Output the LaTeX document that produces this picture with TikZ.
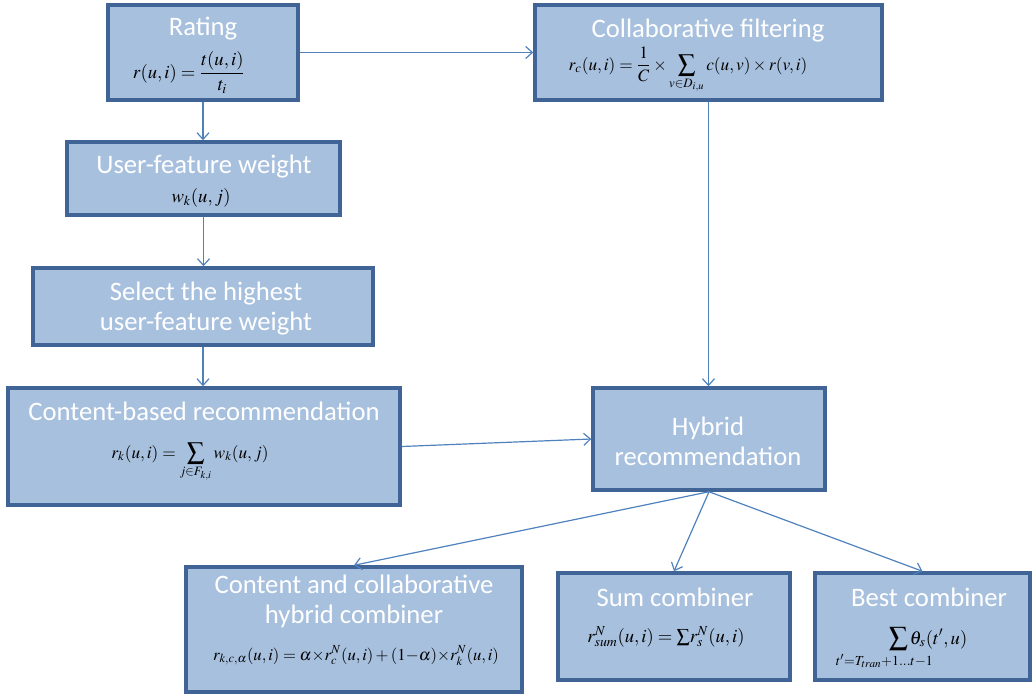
\documentclass[tikz,border=0pt]{standalone}
\usepackage{amsmath}
\usepackage{mathtools}
\usepackage{mathptmx}
\usepackage[no-math]{fontspec}
\setmainfont{Carlito}
\usepackage{xcolor}
\usetikzlibrary{fit,arrows.meta}

\definecolor{boxfill}{RGB}{167,192,222}
\definecolor{boxline}{RGB}{64,100,150}
\definecolor{linkblue}{RGB}{79,129,189}

\begin{document}
\begin{tikzpicture}[x=0.75pt,y=0.75pt,yscale=-1,xscale=1,
	box/.style={draw=boxline,fill=boxfill,line width=2.6pt,inner sep=0pt},
	title/.style={text=white,font=\fontsize{20}{22.5}\selectfont,align=center,inner sep=0pt},
	formula/.style={font=\fontsize{14}{16}\selectfont,inner sep=0pt},
	link/.style={draw=linkblue,line width=0.9pt,-{Straight Barb[length=5pt,width=9pt]}}]
				\useasboundingbox (0,0) rectangle (1034,696);
				
				% Boxes
				\node [box,fit={(108,5) (298,100)}] (rating) {};
				\node [box,fit={(535,5) (882,100)}] (collab) {};
				\node [box,fit={(67,142) (340,215)}] (weight) {};
				\node [box,fit={(33,268) (373,345)}] (select) {};
				\node [box,fit={(8,388) (400,505)}] (content) {};
				\node [box,fit={(593,388) (825,490)}] (hybrid) {};
				\node [box,fit={(186,567) (522,692)}] (cchybrid) {};
				\node [box,fit={(558,573) (790,680)}] (sumcomb) {};
				\node [box,fit={(815,573) (1030,680)}] (bestcomb) {};
				
				% Text Node
				\node [title,anchor=base] (ratingT) at (203,36) {Rating};
				% Text Node
				\node [formula,anchor=base] (ratingF) at (189,78) {$r(u,i)=\dfrac{t(u,i)}{t_i}$};
				% Text Node
				\node [title,anchor=base] (collabT) at (708,37) {Collaborative filtering};
				% Text Node
				\node [formula,anchor=base,font=\fontsize{13}{15}\selectfont] (collabF) at (688,70) {$\displaystyle r_c(u,i)=\frac{1}{C}\times\sum_{v\in D_{i,u}}c(u,v)\times r(v,i)$};
				% Text Node
				\node [title,anchor=base] (weightT) at (204,173) {User-feature weight};
				% Text Node
				\node [formula,anchor=base] (weightF) at (201,202) {$w_k(u,j)$};
				% Text Node
				\node [title] (selectT) at (206,309) {Select the highest\\user-feature weight};
				% Text Node
				\node [title,anchor=base] (contentT) at (204,420) {Content-based recommendation};
				% Text Node
				\node [formula,anchor=base,font=\fontsize{13}{15}\selectfont] (contentF) at (190,458) {$\displaystyle r_k(u,i)=\sum_{j\in F_{k,i}}w_k(u,j)$};
				% Text Node
				\node [title] (hybridT) at (708,441) {Hybrid\\recommendation};
				% Text Node
				\node [title] (cchybridT) at (354,601) {Content and collaborative\\hybrid combiner};
				% Text Node
				\node [formula,anchor=base,font=\fontsize{12.5}{15}\selectfont] (cchybridF) at (356,660) {$r_{k,c,\alpha}(u,i)=\alpha{\times}r_c^N(u,i)+(1{-}\alpha){\times}r_k^N(u,i)$};
				% Text Node
				\node [title,anchor=base] (sumcombT) at (675,606) {Sum combiner};
				% Text Node
				\node [formula,anchor=base] (sumcombF) at (666,642) {$r_{sum}^N(u,i)={\textstyle\sum} r_s^N(u,i)$};
				% Text Node
				\node [title,anchor=base] (bestcombT) at (929,606) {Best combiner};
				% Text Node
				\node [formula,anchor=base] (bestcombF) at (928,644) {$\displaystyle\sum_{\mathclap{\hspace{-1.5em}t'=T_{tran}+1\ldots t-1}}\theta_s(t',u)$};
				
				% Connection
				\draw [link] (rating.east) -- (collab.west);
				% Connection
				\draw [link] (rating.south) -- (rating.south |- weight.north);
				% Connection
				\draw [link] (weight.south) -- (weight.south |- select.north);
				% Connection
				\draw [link] (select.south) -- (select.south |- content.north);
				% Connection
				\draw [link] (collab.south) -- (collab.south |- hybrid.north);
				% Connection
				\draw [link] (content.east) -- (hybrid.west);
				% Connection
				\draw [link] (hybrid.south) -- (cchybrid.north);
				% Connection
				\draw [link] (hybrid.south) -- (sumcomb.north);
				% Connection
				\draw [link] (hybrid.south) -- (bestcomb.north);
				
\end{tikzpicture}
\end{document}
